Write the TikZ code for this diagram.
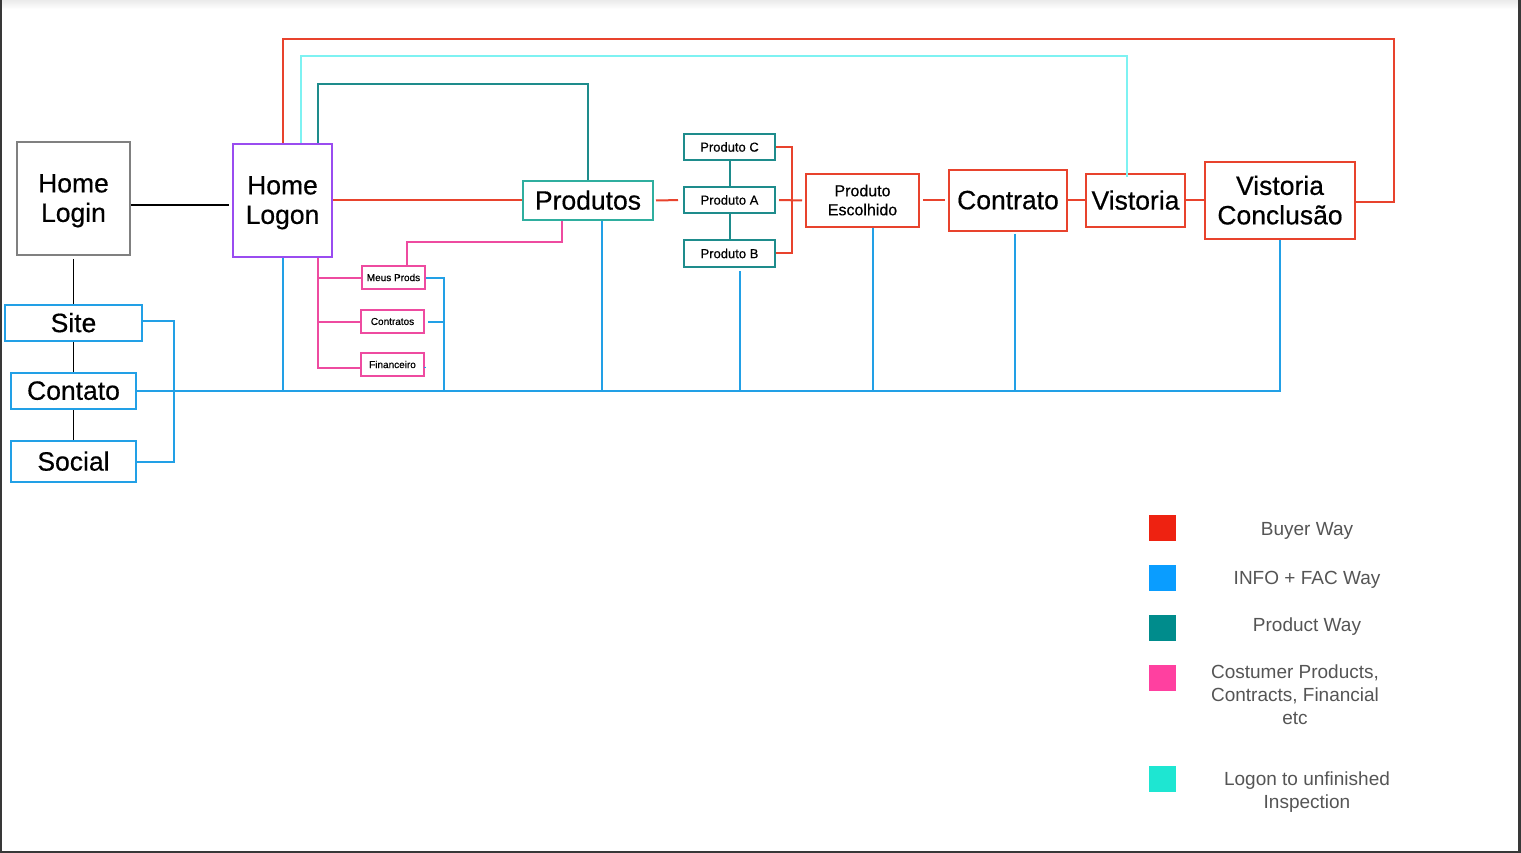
\documentclass[tikz,border=0pt]{standalone}
\usepackage{fontspec}
\setmainfont{Liberation Sans}
\newfontfamily\boxfont{Liberation Sans}[FakeBold=0.5]
\usetikzlibrary{calc}
\definecolor{cred}{HTML}{E8432D}
\definecolor{cblue}{HTML}{22A0E6}
\definecolor{cteal}{HTML}{1E8C8C}
\definecolor{cteal2}{HTML}{2FAE9F}
\definecolor{cpink}{HTML}{EE4BA0}
\definecolor{cpurple}{HTML}{9A4CF0}
\definecolor{ccyan}{HTML}{7EF2F2}
\definecolor{cgray}{HTML}{808080}
\definecolor{lred}{HTML}{EE2211}
\definecolor{lblue}{HTML}{0A9DFF}
\definecolor{lteal}{HTML}{008C8C}
\definecolor{lpink}{HTML}{FF40A0}
\definecolor{lcyan}{HTML}{1EE6D2}
\definecolor{ltext}{HTML}{555555}
\begin{document}
\begin{tikzpicture}[x=1pt,y=-1pt,
  box/.style={draw, line width=2pt, inner sep=0pt, align=center, fill=white, text=black},
  big/.style={font=\boxfont\fontsize{26.5}{29.5}\selectfont, text depth=1pt},
  mid/.style={font=\boxfont\fontsize{16}{19}\selectfont, text depth=1pt},
  sml/.style={font=\boxfont\fontsize{13}{14}\selectfont},
  tiny/.style={font=\boxfont\fontsize{10}{12}\selectfont},
  blk/.style={draw=black, line width=1.8pt},
  blu/.style={draw=cblue, line width=2pt},
  rd/.style={draw=cred, line width=2pt},
  pnk/.style={draw=cpink, line width=2pt},
  tel/.style={draw=cteal, line width=2pt},
  cyn/.style={draw=ccyan, line width=1.8pt},
  legsq/.style={draw=none, minimum width=27pt, minimum height=26pt, inner sep=0pt},
  legtext/.style={text=ltext, align=center, font=\fontsize{19}{23}\selectfont}
]
\useasboundingbox (0,0) rectangle (1521,853);
\fill[white] (0,0) rectangle (1521,853);
\shade[top color=black!8, bottom color=white] (0,0) rectangle (1521,9);

% nodes
\node[box, big, draw=cgray, minimum width=113pt, minimum height=113pt] (login) at (73.5,198.5) {Home\\Login};
\node[box, big, draw=cpurple, minimum width=99pt, minimum height=113pt] (logon) at (282.5,200.5) {Home\\Logon};
\node[box, big, draw=cblue, minimum width=137pt, minimum height=36pt] (site) at (73.5,323) {Site};
\node[box, big, draw=cblue, minimum width=125pt, minimum height=36pt] (contato) at (73.5,391) {Contato};
\node[box, big, draw=cblue, minimum width=125pt, minimum height=41pt] (social) at (73.5,461.5) {Social};
\node[box, big, draw=cteal2, minimum width=130pt, minimum height=39pt] (produtos) at (588,200.5) {Produtos};
\node[box, sml, draw=cteal, minimum width=91pt, minimum height=26pt] (pc) at (729.5,147) {Produto C};
\node[box, sml, draw=cteal, minimum width=91pt, minimum height=26pt] (pa) at (729.5,200) {Produto A};
\node[box, sml, draw=cteal, minimum width=91pt, minimum height=27pt] (pb) at (729.5,253.5) {Produto B};
\node[box, mid, draw=cred, minimum width=113pt, minimum height=53pt] (pe) at (862.5,200.5) {Produto\\Escolhido};
\node[box, big, draw=cred, minimum width=118pt, minimum height=61pt] (contrato) at (1008,200.5) {Contrato};
\node[box, big, draw=cred, minimum width=99pt, minimum height=53pt] (vistoria) at (1135.5,200.5) {Vistoria};
\node[box, big, draw=cred, minimum width=150pt, minimum height=77pt] (vc) at (1280,200.5) {Vistoria\\Conclusão};
\node[box, tiny, draw=cpink, minimum width=63pt, minimum height=23pt] (meus) at (393.5,277.5) {Meus Prods};
\node[box, tiny, draw=cpink, minimum width=63pt, minimum height=23pt] (contr) at (392.5,321.5) {Contratos};
\node[box, tiny, draw=cpink, minimum width=63pt, minimum height=23pt] (fin) at (392.5,364.5) {Financeiro};

% black connectors
\draw[blk, shorten >=3pt] ($(login.east)+(0,6.5)$) -- ($(logon.west)+(0,4.5)$);
\draw[blk, shorten <=3pt] (login.south) -- (site.north);
\draw[blk] (site.south) -- (contato.north);
\draw[blk] (contato.south) -- (social.north);

% blue connectors
\draw[blu] ($(site.east)+(0,-2)$) -- ++(31,0) coordinate (bxt) -- (bxt |- social.east) -- (social.east);
\draw[blu] (contato.east) -- (contato.east -| vc.south) -- (vc.south);
\draw[blu] (logon.south) -- (logon.south |- contato.east);
\coordinate (ps) at ($(produtos.south)+(14,0)$);
\draw[blu] (ps) -- (ps |- contato.east);
\coordinate (pbs) at ($(pb.south)+(10.5,3)$);
\draw[blu] (pbs) -- (pbs |- contato.east);
\coordinate (pes) at ($(pe.south)+(10.5,0)$);
\draw[blu] (pes) -- (pes |- contato.east);
\coordinate (cs) at ($(contrato.south)+(7,2)$);
\draw[blu] (cs) -- (cs |- contato.east);
\coordinate (bx2) at ($(meus.east)+(18,0)$);
\draw[blu] (meus.east) -- (bx2) -- (bx2 |- contato.east);
\draw[blu, shorten <=3pt] (contr.east) -- (contr.east -| bx2);
\draw[blu, shorten <=1.5pt] ($(fin.east)+(0,3.5)$) -- ($(fin.east)+(0,3.5)$ -| bx2);

% pink connectors
\coordinate (pk) at ($(logon.south)+(35.5,0)$);
\draw[pnk] (pk) -- ($(pk |- fin.west)+(0,3.5)$) -- ($(fin.west)+(0,3.5)$);
\draw[pnk] (pk |- meus.west) -- (meus.west);
\draw[pnk] (pk |- contr.west) -- (contr.west);
\coordinate (pp) at ($(produtos.south)+(-26,0)$);
\coordinate (mt) at ($(meus.north)+(13.5,0)$);
\draw[pnk] (pp) -- ++(0,21) -| (mt);

% red connectors
\draw[rd] (logon.east) -- (produtos.west);
\draw[rd, shorten <=2pt, shorten >=5pt] (produtos.east) -- (pa.west);
\draw[rd, shorten <=3pt, shorten >=3pt] (pa.east) -- (pe.west);
\coordinate (rb) at ($(pb.east)+(16,0)$);
\draw[rd] (pc.east) -- (pc.east -| rb) -- (rb) -- (pb.east);
\draw[rd, shorten <=3pt, shorten >=3pt] (pe.east) -- (contrato.west);
\draw[rd] (contrato.east) -- (vistoria.west);
\draw[rd] (vistoria.east) -- (vc.west);
\draw[rd] ($(vc.east)+(0,1.5)$) -- ++(38,0) |- ($(logon.north)+(0,-104)$) -- (logon.north);

% cyan connector
\coordinate (cy) at ($(logon.north)+(18.5,0)$);
\draw[cyn] (cy) -- ++(0,-87) -| ($(vistoria.north)+(-8.5,4)$);

% teal connectors
\coordinate (tl) at ($(logon.north)+(35.5,0)$);
\draw[tel] (tl) -- ++(0,-59) -| (produtos.north);
\draw[tel] (pc.south) -- (pa.north);
\draw[tel] (pa.south) -- (pb.north);

% legend
\node[legsq, fill=lred] (l1) at (1162.5,528) {};
\node[legsq, fill=lblue] (l2) at (1162.5,578) {};
\node[legsq, fill=lteal] (l3) at (1162.5,628) {};
\node[legsq, fill=lpink] (l4) at (1162.5,678) {};
\node[legsq, fill=lcyan] (l5) at (1162.5,779) {};
\node[legtext] (t1) at (1307,531) {Buyer Way};
\node[legtext] (t2) at (1307,580) {INFO + FAC Way};
\node[legtext] (t3) at (1307,627) {Product Way};
\node[legtext] (t4) at (1295,695) {Costumer Products,\\Contracts, Financial\\etc};
\node[legtext] (t5) at (1307,792) {Logon to unfinished\\Inspection};

% frame
\draw[line width=2.5pt, draw=black!78] (1,0) -- (1,852) -- (1519.5,852) -- (1519.5,0);
\end{tikzpicture}
\end{document}
